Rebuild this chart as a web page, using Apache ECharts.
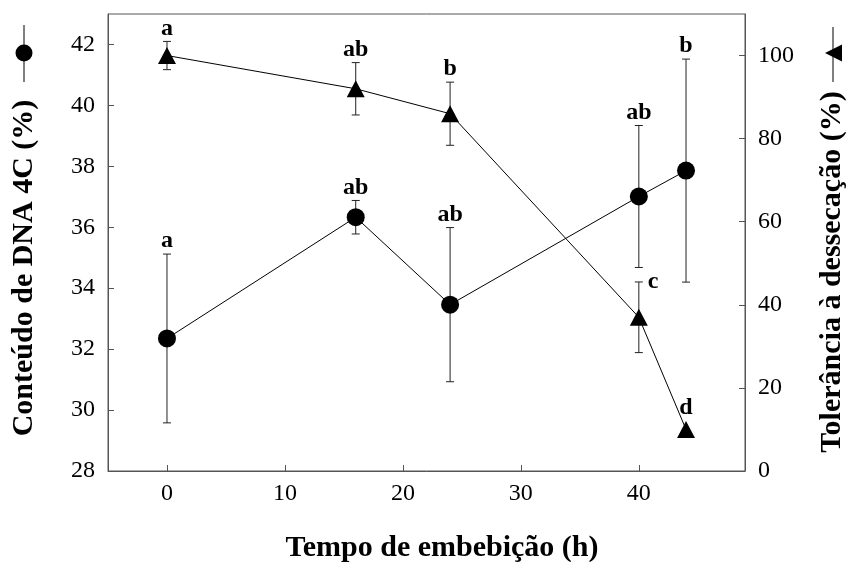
<!DOCTYPE html>
<html>
<head>
<meta charset="utf-8">
<script src="https://cdn.jsdelivr.net/npm/echarts@6/dist/echarts.min.js"></script>
<style>
  html, body { margin: 0; padding: 0; background: #fff; }
  #chart { width: 848px; height: 562px; }
</style>
</head>
<body>
<div id="chart"></div>
<script>
// Imbibition time (h)
const hours = [0, 16, 24, 40, 44];

// 4C DNA content (%) – mean and error
const dnaMean = [32.35, 36.33, 33.46, 37.01, 37.86];
const dnaErr = [2.77, 0.55, 2.53, 2.33, 3.66];
const dnaLetters = ['a', 'ab', 'ab', 'ab', 'b'];

// Desiccation tolerance (%) – mean and error
const tolMean = [100, 92, 86, 37, 10];
const tolErr = [3.4, 6.3, 7.6, 8.5, 0];
const tolLetters = ['a', 'ab', 'b', 'c', 'd'];

// Tick labels
const xTicks = [0, 10, 20, 30, 40];
const dnaTicks = [28, 30, 32, 34, 36, 38, 40, 42];
const tolTicks = [0, 20, 40, 60, 80, 100];

const SERIF = '"Liberation Serif", "Times New Roman", serif';
const AXIS_COLOR = '#555';

const chart = echarts.init(document.getElementById('chart'), null, { renderer: 'canvas' });

function pairs(xs, ys) { return xs.map((x, i) => [x, ys[i]]); }
function triples(xs, ys, es) { return xs.map((x, i) => [x, ys[i], es[i]]); }

// Error bars plus significance letters; letters sit above the upper cap,
// or beside it for the indices listed in sideIdx.
function errorBars(letters, markerHalf, sideIdx) {
  return function (params, api) {
    const i = params.dataIndex;
    const x = api.value(0), m = api.value(1), e = api.value(2);
    const p = api.coord([x, m]);
    const top = api.coord([x, m + e]);
    const bot = api.coord([x, m - e]);
    const cap = 4;
    const lineStyle = { stroke: '#222', lineWidth: 1 };
    const children = [];
    if (e > 0) {
      children.push(
        { type: 'line', shape: { x1: top[0], y1: top[1], x2: bot[0], y2: bot[1] }, style: lineStyle },
        { type: 'line', shape: { x1: top[0] - cap, y1: top[1], x2: top[0] + cap, y2: top[1] }, style: lineStyle },
        { type: 'line', shape: { x1: bot[0] - cap, y1: bot[1], x2: bot[0] + cap, y2: bot[1] }, style: lineStyle }
      );
    }
    const textStyle = {
      text: letters[i],
      fontFamily: SERIF,
      fontWeight: 'bold',
      fontSize: 24,
      fill: '#000'
    };
    if (sideIdx.indexOf(i) >= 0) {
      children.push({
        type: 'text', x: top[0] + 9, y: top[1],
        style: Object.assign({}, textStyle, { align: 'left', verticalAlign: 'middle' })
      });
    } else {
      const yTop = e > 0 ? top[1] : p[1] - markerHalf;
      children.push({
        type: 'text', x: top[0], y: yTop - 1,
        style: Object.assign({}, textStyle, { align: 'center', verticalAlign: 'bottom' })
      });
    }
    return { type: 'group', children: children };
  };
}

const axisLineStyle = { show: true, onZero: false, lineStyle: { color: AXIS_COLOR, width: 1 } };
function ticks(values) {
  return { show: true, inside: true, length: 6, customValues: values, lineStyle: { color: AXIS_COLOR } };
}
function labels(values, margin) {
  return { customValues: values, margin: margin, fontFamily: SERIF, fontSize: 24, color: '#000' };
}

chart.setOption({
  backgroundColor: '#fff',
  animation: false,
  grid: {
    left: 108, right: 103, top: 14, bottom: 91,
    show: true, borderColor: AXIS_COLOR, borderWidth: 1
  },
  xAxis: {
    type: 'value', min: -5, max: 49,
    axisLine: axisLineStyle, axisTick: ticks(xTicks), axisLabel: labels(xTicks, 11),
    splitLine: { show: false }
  },
  yAxis: [
    {
      type: 'value', min: 28, max: 43, position: 'left',
      axisLine: axisLineStyle, axisTick: ticks(dnaTicks), axisLabel: labels(dnaTicks, 13),
      splitLine: { show: false }
    },
    {
      type: 'value', min: 0, max: 110, position: 'right',
      axisLine: axisLineStyle, axisTick: ticks(tolTicks), axisLabel: labels(tolTicks, 13),
      splitLine: { show: false }
    }
  ],
  series: [
    {
      name: 'Conteúdo de DNA 4C', type: 'custom', yAxisIndex: 0, z: 1,
      renderItem: errorBars(dnaLetters, 9, []),
      data: triples(hours, dnaMean, dnaErr)
    },
    {
      name: 'Tolerância à dessecação', type: 'custom', yAxisIndex: 1, z: 1,
      renderItem: errorBars(tolLetters, 9, [3]),
      data: triples(hours, tolMean, tolErr)
    },
    {
      name: 'Conteúdo de DNA 4C', type: 'line', yAxisIndex: 0, z: 3,
      symbol: 'circle', symbolSize: 18,
      itemStyle: { color: '#000' },
      lineStyle: { color: '#000', width: 1 },
      data: pairs(hours, dnaMean)
    },
    {
      name: 'Tolerância à dessecação', type: 'line', yAxisIndex: 1, z: 3,
      symbol: 'triangle', symbolSize: [18, 17],
      itemStyle: { color: '#000' },
      lineStyle: { color: '#000', width: 1 },
      data: pairs(hours, tolMean)
    }
  ],
  graphic: [
    // left axis title with its key symbol
    {
      type: 'text', x: 24, y: 268, rotation: Math.PI / 2,
      style: { text: 'Conteúdo de DNA 4C (%)', fontFamily: SERIF, fontWeight: 'bold', fontSize: 30,
               fill: '#000', align: 'center', verticalAlign: 'middle' }
    },
    { type: 'line', shape: { x1: 24, y1: 25, x2: 24, y2: 82 }, style: { stroke: '#000', lineWidth: 1 } },
    { type: 'circle', shape: { cx: 24, cy: 53, r: 8.5 }, style: { fill: '#000' } },
    // right axis title with its key symbol
    {
      type: 'text', x: 832, y: 272, rotation: Math.PI / 2,
      style: { text: 'Tolerância à dessecação (%)', fontFamily: SERIF, fontWeight: 'bold', fontSize: 30,
               fill: '#000', align: 'center', verticalAlign: 'middle' }
    },
    { type: 'line', shape: { x1: 833, y1: 27, x2: 833, y2: 82 }, style: { stroke: '#000', lineWidth: 1 } },
    { type: 'polygon', shape: { points: [[825, 53], [842, 44.5], [842, 61.5]] }, style: { fill: '#000' } },
    // x axis title
    {
      type: 'text', x: 442, y: 548,
      style: { text: 'Tempo de embebição (h)', fontFamily: SERIF, fontWeight: 'bold', fontSize: 30,
               fill: '#000', align: 'center', verticalAlign: 'middle' }
    }
  ]
});
</script>
</body>
</html>
